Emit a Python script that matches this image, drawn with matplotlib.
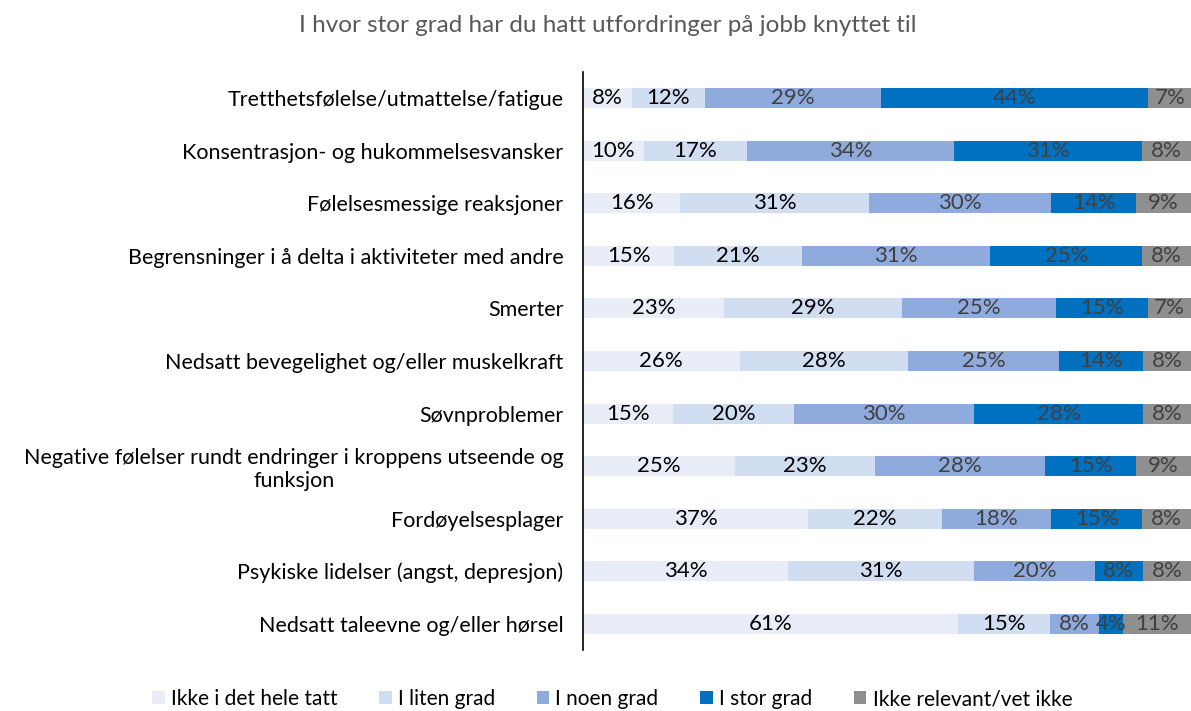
import matplotlib
matplotlib.use("Agg")
import matplotlib.pyplot as plt
from matplotlib.patches import Patch

categories = [
    "Tretthetsfølelse/utmattelse/fatigue",
    "Konsentrasjon- og hukommelsesvansker",
    "Følelsesmessige reaksjoner",
    "Begrensninger i å delta i aktiviteter med andre",
    "Smerter",
    "Nedsatt bevegelighet og/eller muskelkraft",
    "Søvnproblemer",
    "Negative følelser rundt endringer i kroppens utseende og\nfunksjon",
    "Fordøyelsesplager",
    "Psykiske lidelser (angst, depresjon)",
    "Nedsatt taleevne og/eller hørsel",
]
ikke_i_det_hele_tatt = [8, 10, 16, 15, 23, 26, 15, 25, 37, 34, 61]
i_liten_grad = [12, 17, 31, 21, 29, 28, 20, 23, 22, 31, 15]
i_noen_grad = [29, 34, 30, 31, 25, 25, 30, 28, 18, 20, 8]
i_stor_grad = [44, 31, 14, 25, 15, 14, 28, 15, 15, 8, 4]
ikke_relevant = [7, 8, 9, 8, 7, 8, 8, 9, 8, 8, 11]

series_names = ["Ikke i det hele tatt", "I liten grad", "I noen grad", "I stor grad", "Ikke relevant/vet ikke"]
series = [ikke_i_det_hele_tatt, i_liten_grad, i_noen_grad, i_stor_grad, ikke_relevant]
colors = ["#E9EDF7", "#D1DDF1", "#8FAADC", "#0070C0", "#8F8F8F"]
label_colors = ["#000000", "#000000", "#404040", "#404040", "#404040"]

plt.rcParams['font.family'] = ['Lato', 'DejaVu Sans']

fig = plt.figure(figsize=(11.91, 7.11), dpi=100)
ax = fig.add_axes([583/1191, 1-650/711, 1-583/1191, (650-72)/711])

n = len(categories)
ypos = list(range(n))
totals = [sum(s[i] for s in series) for i in range(n)]
lefts = [0.0]*n
for name, vals, col, lc in zip(series_names, series, colors, label_colors):
    widths = [vals[i]/totals[i]*100 for i in range(n)]
    ax.barh(ypos, widths, left=lefts, height=0.38, color=col, label=name)
    for i in range(n):
        ax.text(lefts[i] + widths[i]/2, ypos[i], f"{vals[i]}%", ha="center", va="center",
                fontsize=16, color=lc)
    lefts = [lefts[i] + widths[i] for i in range(n)]

ax.set_xlim(0, 100)
ax.set_ylim(n - 0.5, -0.5)
ax.set_yticks(ypos)
ax.set_yticklabels(categories, fontsize=15.5)
ax.tick_params(axis='y', length=0, pad=14)
ax.set_xticks([])
for sp in ["top", "right", "bottom"]:
    ax.spines[sp].set_visible(False)
ax.spines["left"].set_color("#000000")
ax.spines["left"].set_linewidth(1.2)
for lbl in ax.get_yticklabels():
    lbl.set_horizontalalignment("right")
    lbl.set_multialignment("center")

fig.text(0.51, 1-25/711, "I hvor stor grad har du hatt utfordringer på jobb knyttet til",
         ha="center", va="center", fontsize=17.5, color="#595959")

handles = [Patch(facecolor=c, edgecolor="none") for c in colors]
fig.legend(handles, series_names, loc="center", bbox_to_anchor=(0.514, 1-699/711), ncol=5,
           frameon=False, fontsize=15, handlelength=0.6, handleheight=0.6,
           handletextpad=0.3, columnspacing=2.0)

fig.savefig("out.png", dpi=100)
